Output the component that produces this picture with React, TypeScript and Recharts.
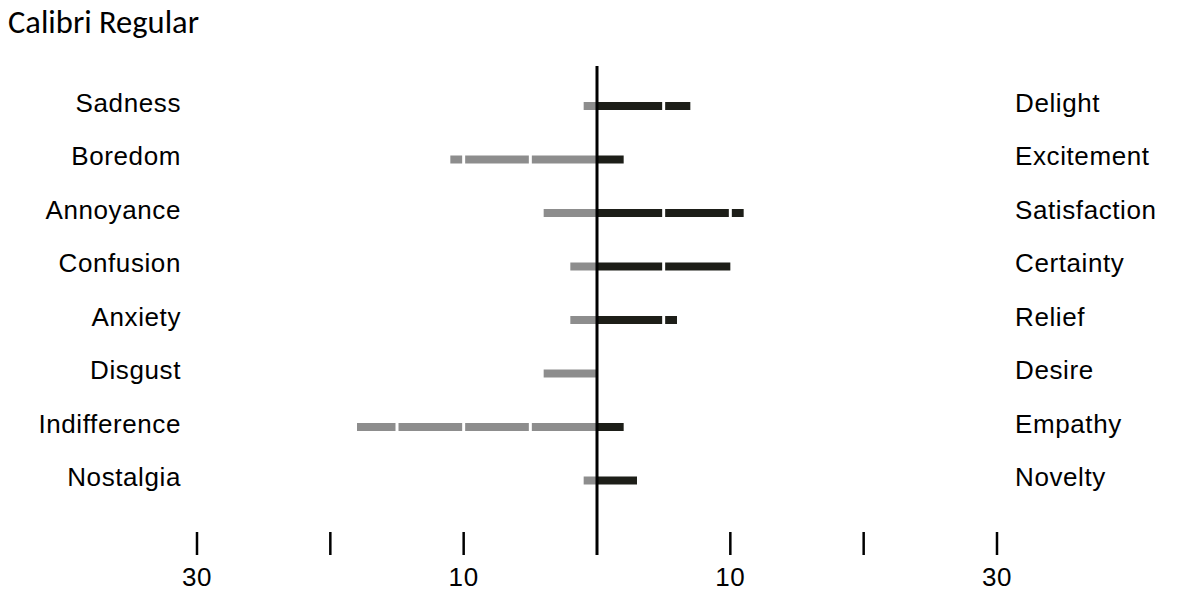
import { BarChart, Bar, XAxis, YAxis, ReferenceLine } from "recharts";

const leftCategories = ["Sadness", "Boredom", "Annoyance", "Confusion", "Anxiety", "Disgust", "Indifference", "Nostalgia"];
const rightCategories = ["Delight", "Excitement", "Satisfaction", "Certainty", "Relief", "Desire", "Empathy", "Novelty"];
const negativeValues = [1, 11, 4, 2, 2, 4, 18, 1];
const positiveValues = [7, 2, 11, 10, 6, 0, 2, 3];
const tickValues = [-30, -20, -10, 10, 20, 30];
const tickLabels = ["30", "", "10", "10", "", "30"];
const SEGMENT = 5;

const data = leftCategories.map((left, i) => ({
  left,
  right: rightCategories[i],
  neg: -negativeValues[i],
  pos: positiveValues[i],
}));

const LABEL_FONT = "'Liberation Sans', Arial, sans-serif";

// draws a bar as blocks of 5 units, counted outward from zero
function SegmentedBar(props: any) {
  const { x, y, width, height, fill, amount, side } = props;
  if (!amount || !width) return null;
  const w = Math.abs(width);
  const unit = w / amount;
  const origin = side === "left" ? Math.max(x, x + width) : Math.min(x, x + width);
  const rects = [];
  for (let k = 0; k * SEGMENT < amount; k++) {
    const a = k * SEGMENT;
    const b = Math.min(amount, (k + 1) * SEGMENT);
    const s = a * unit + (k > 0 ? 1.5 : 0);
    const e = b * unit - (b < amount ? 1.5 : 0);
    const rx = side === "left" ? origin - e : origin + s;
    rects.push(<rect key={k} x={rx} y={y} width={e - s} height={height} fill={fill} />);
  }
  return <g>{rects}</g>;
}

function CategoryTick(props: any) {
  const { x, y, payload, anchor } = props;
  return (
    <text x={x} y={y + 6} textAnchor={anchor} fontFamily={LABEL_FONT} fontSize={26} letterSpacing={0.6} fill="#000">
      {payload.value}
    </text>
  );
}

function ValueTick(props: any) {
  const { x, y, payload } = props;
  const idx = tickValues.indexOf(payload.value);
  return (
    <g>
      <line x1={x} x2={x} y1={y - 23} y2={y} stroke="#000" strokeWidth={2.5} />
      <text x={x} y={y + 31} textAnchor="middle" fontFamily={LABEL_FONT} fontSize={26} letterSpacing={0.6} fill="#000">
        {tickLabels[idx]}
      </text>
    </g>
  );
}

export default function App() {
  return (
    <div style={{ position: "absolute", left: 0, top: 0, width: 1200, height: 601, background: "#fff" }}>
      <svg width={1200} height={60} style={{ position: "absolute", left: 0, top: 0 }}>
        <text x={8} y={33} fontFamily="Carlito, Lato, sans-serif" fontSize={32.5} fill="#000">
          Calibri Regular
        </text>
      </svg>
      <BarChart
        width={1200}
        height={601}
        data={data}
        layout="vertical"
        stackOffset="sign"
        margin={{ top: 66, right: 0, bottom: 0, left: 0 }}
        style={{ position: "absolute", left: 0, top: 0 }}
      >
        <XAxis
          type="number"
          domain={[-30, 30]}
          ticks={tickValues}
          interval={0}
          height={46}
          axisLine={false}
          tickLine={false}
          tickSize={0}
          tickMargin={0}
          tick={<ValueTick />}
        />
        <YAxis
          yAxisId="left"
          type="category"
          dataKey="left"
          width={197}
          interval={0}
          axisLine={false}
          tickLine={false}
          tickSize={0}
          tickMargin={16}
          padding={{ top: 13, bottom: 48 }}
          tick={<CategoryTick anchor="end" />}
        />
        <YAxis
          yAxisId="right"
          orientation="right"
          type="category"
          dataKey="right"
          width={203}
          interval={0}
          axisLine={false}
          tickLine={false}
          tickSize={0}
          tickMargin={18}
          padding={{ top: 13, bottom: 48 }}
          tick={<CategoryTick anchor="start" />}
        />
        <Bar
          yAxisId="left"
          dataKey="neg"
          stackId="s"
          fill="#8d8d8d"
          barSize={8}
          isAnimationActive={false}
          shape={(p: any) => <SegmentedBar {...p} amount={Math.abs(p.payload.neg)} side="left" />}
        />
        <Bar
          yAxisId="left"
          dataKey="pos"
          stackId="s"
          fill="#1d1e18"
          barSize={8}
          isAnimationActive={false}
          shape={(p: any) => <SegmentedBar {...p} amount={Math.abs(p.payload.pos)} side="right" />}
        />
        <ReferenceLine yAxisId="left" x={0} stroke="#000" strokeWidth={3} />
      </BarChart>
    </div>
  );
}
